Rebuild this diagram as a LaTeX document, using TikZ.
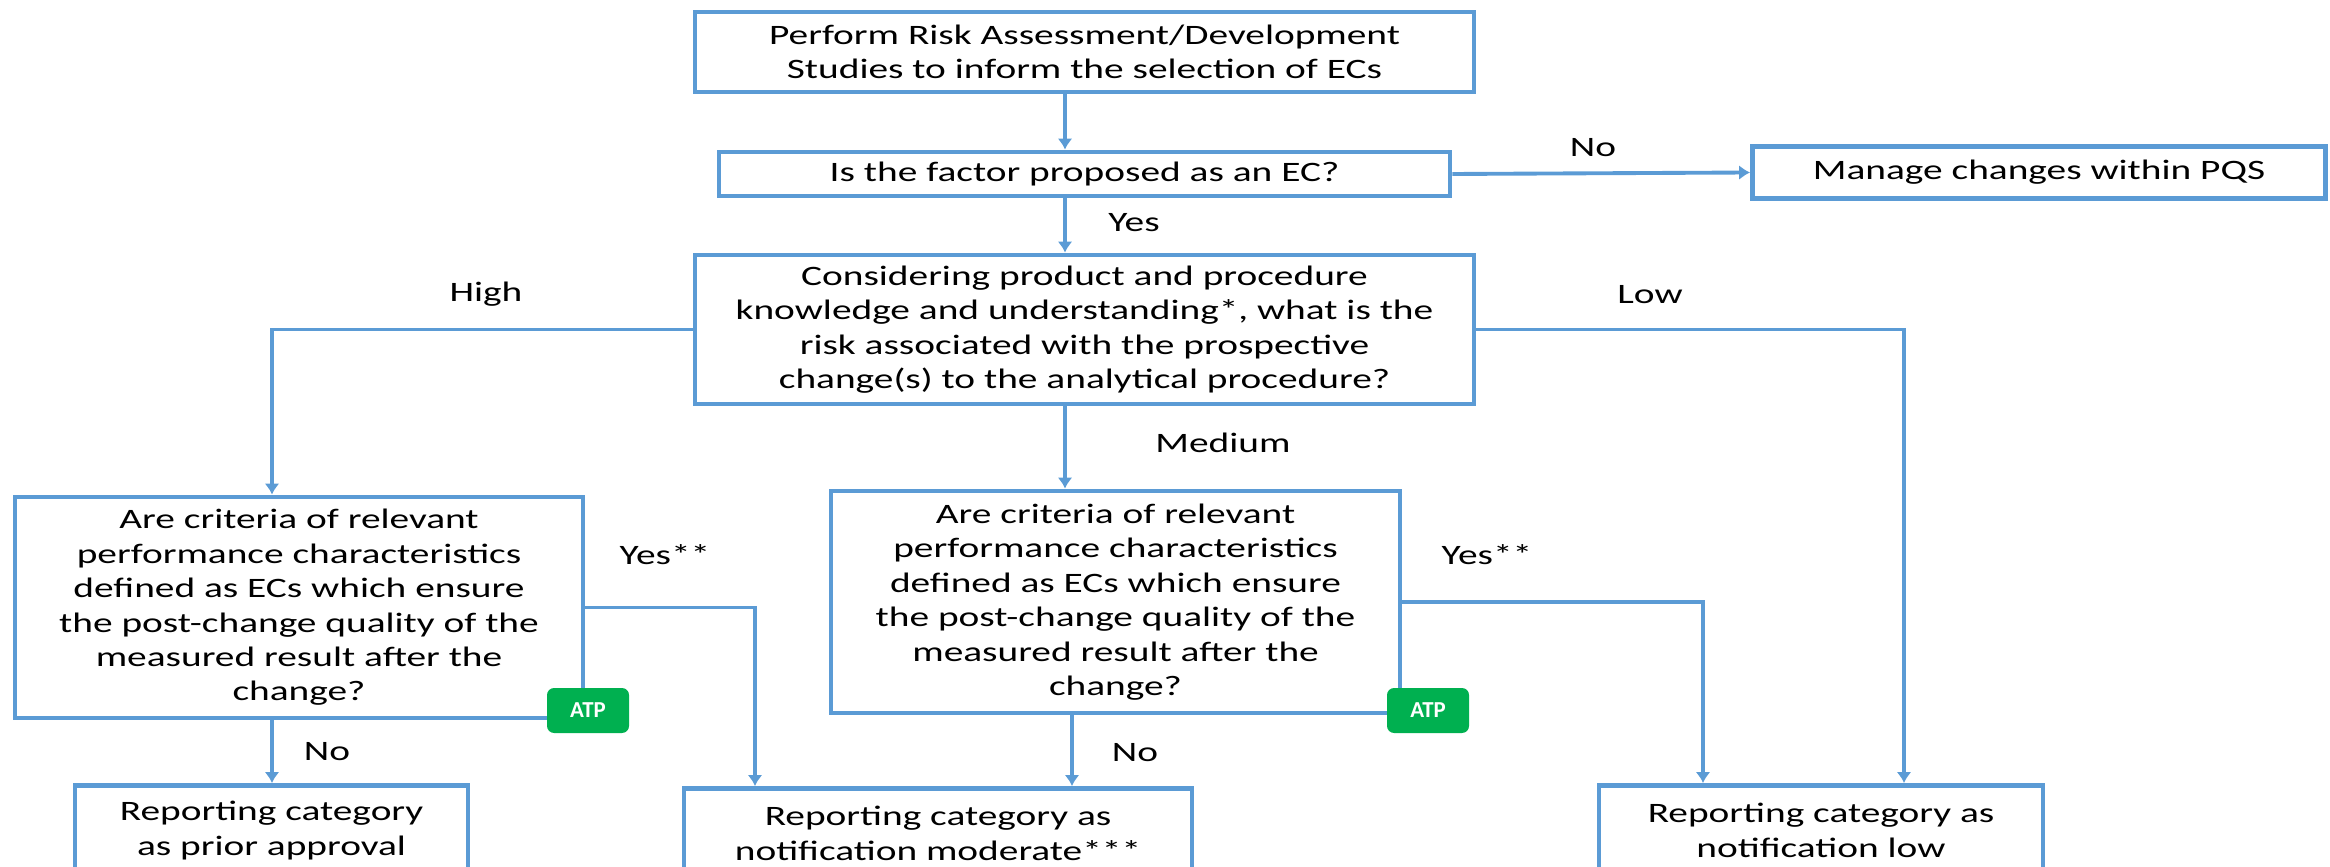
\documentclass[tikz,border=0pt]{standalone}
\usepackage{fontspec}
\setmainfont{Carlito}[FakeStretch=1.4]
\newfontfamily\atpfont{Carlito}
\usetikzlibrary{arrows.meta}
\definecolor{boxblue}{RGB}{91,155,213}
\definecolor{atpgreen}{RGB}{0,176,80}

\begin{document}
\begin{tikzpicture}[
  box/.style={draw=boxblue, line width=1.4pt, align=center, inner sep=2pt, font=\fontsize{8}{9.8}\selectfont},
  arr/.style={draw=boxblue, line width=1.1pt, -{Latex[length=1.1mm,width=1.5mm]}},
  lbl/.style={font=\fontsize{8}{9.8}\selectfont},
  atp/.style={fill=atpgreen, rounded corners=2pt, text=white, minimum width=0.82cm, minimum height=0.45cm, font=\atpfont\bfseries\fontsize{6.5}{7}\selectfont}
]
\path[use as bounding box] (0,0) rectangle (23.3,8.66);
\clip (0,0) rectangle (23.3,8.66);

% Top part
\node[box, minimum width=7.79cm, minimum height=0.80cm] (perform) at (10.845,8.14) {Perform Risk Assessment/Development\\Studies to inform the selection of ECs};
\node[box, minimum width=7.31cm, minimum height=0.44cm] (isec) at (10.845,6.92) {Is the factor proposed as an EC?};
\node[box, minimum width=5.73cm, minimum height=0.52cm] (pqs) at (20.39,6.935) {Manage changes within PQS};
\node[box, minimum width=7.79cm, minimum height=1.49cm] (risk) at (10.845,5.365) {Considering product and procedure\\knowledge and understanding*, what is the\\risk associated with the prospective\\change(s) to the analytical procedure?};

% Questions on the criteria
\node[box, minimum width=5.68cm, minimum height=2.21cm] (critA) at (2.99,2.585) {Are criteria of relevant\\performance characteristics\\defined as ECs which ensure\\the post-change quality of the\\measured result after the\\change?};
\node[box, minimum width=5.69cm, minimum height=2.22cm] (critB) at (11.155,2.64) {Are criteria of relevant\\performance characteristics\\defined as ECs which ensure\\the post-change quality of the\\measured result after the\\change?};

% Reporting categories
\node[box, anchor=north, minimum width=3.93cm, minimum height=0.9cm] (prior) at (2.715,0.83) {Reporting category\\as prior approval};
\node[box, anchor=north, minimum width=5.08cm, minimum height=0.9cm] (moder) at (9.38,0.80) {Reporting category as\\notification moderate***};
\node[box, anchor=north, minimum width=4.44cm, minimum height=0.9cm] (lowrep) at (18.21,0.83) {Reporting category as\\notification low};

% Connector columns
\coordinate (spine) at (10.65,0);
\coordinate (highx) at (2.72,0);
\coordinate (lowx) at (19.04,0);
\coordinate (yesA) at (7.55,0);
\coordinate (yesB) at (17.03,0);
\coordinate (noB) at (10.72,0);

% Arrows
\draw[arr] (perform.south -| spine) -- (isec.north -| spine);
\draw[arr] (isec.south -| spine) -- (risk.north -| spine);
\draw[arr] (isec.east) -- (pqs.west);
\draw[arr] (risk.south -| spine) -- (critB.north -| spine);
\draw[arr] (risk.west) -| (critA.north -| highx);
\draw[arr] (risk.east) -| (lowrep.north -| lowx);
\draw[arr] (critA.east) -| (moder.north -| yesA);
\draw[arr] (critB.east) -| (lowrep.north -| yesB);
\draw[arr] (critA.south -| highx) -- (prior.north -| highx);
\draw[arr] (critB.south -| noB) -- (moder.north -| noB);

% Labels
\node[lbl] (lblyes) at (11.34,6.43) {Yes};
\node[lbl] (lblno) at (15.93,7.18) {No};
\node[lbl] (lblhigh) at (4.86,5.72) {High};
\node[lbl] (lbllow) at (16.5,5.71) {Low};
\node[lbl] (lblmed) at (12.23,4.23) {Medium};
\node[lbl] (lblyesA) at (6.65,3.11) {Yes**};
\node[lbl] (lblyesB) at (14.87,3.11) {Yes**};
\node[lbl] (lblnoA) at (3.27,1.14) {No};
\node[lbl] (lblnoB) at (11.35,1.13) {No};

% ATP badges
\node[atp] (atpA) at (5.88,1.555) {ATP};
\node[atp] (atpB) at (14.28,1.555) {ATP};
\end{tikzpicture}
\end{document}
